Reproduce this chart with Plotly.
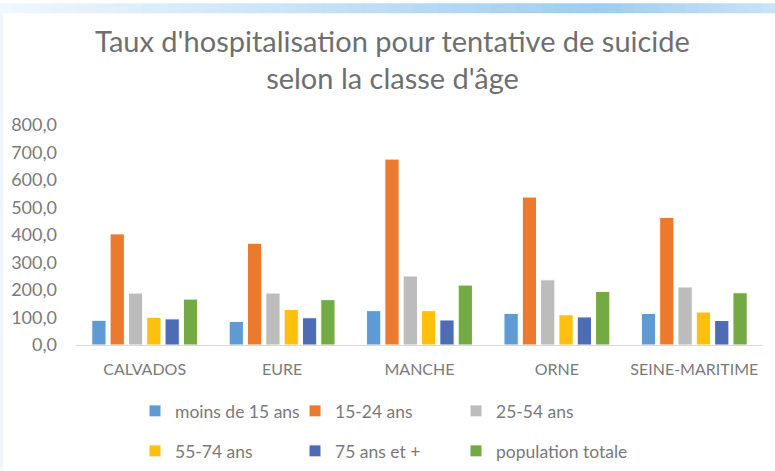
import plotly.graph_objects as go

categories = ["CALVADOS", "EURE", "MANCHE", "ORNE", "SEINE-MARITIME"]
series_names = ["moins de 15 ans", "15-24 ans", "25-54 ans", "55-74 ans", "75 ans et +", "population totale"]
moins_15 = [90, 86, 125, 115, 115]
ans_15_24 = [404, 370, 676, 538, 464]
ans_25_54 = [189, 189, 251, 237, 211]
ans_55_74 = [101, 129, 125, 110, 120]
ans_75_plus = [95, 99, 91, 102, 89]
population_totale = [167, 165, 218, 195, 190]
y_ticks = [0, 100, 200, 300, 400, 500, 600, 700, 800]

series_values = [moins_15, ans_15_24, ans_25_54, ans_55_74, ans_75_plus, population_totale]
colors = ["#5e9bd4", "#eb7a2f", "#bcbcbc", "#fdc00d", "#4e6bb5", "#73aa44"]

W, H = 775, 471
# legend placement (container coords) for each entry: 3 columns x 2 rows
col_x = [135 / W, 295 / W, 456 / W]
row_y = [1 - 411 / H, 1 - 451 / H]
legend_pos = [(col_x[0], row_y[0]), (col_x[1], row_y[0]), (col_x[2], row_y[0]),
              (col_x[0], row_y[1]), (col_x[1], row_y[1]), (col_x[2], row_y[1])]
legend_ids = ["legend", "legend2", "legend3", "legend4", "legend5", "legend6"]

fig = go.Figure()
for name, vals, col, lid in zip(series_names, series_values, colors, legend_ids):
    fig.add_trace(go.Bar(
        x=categories, y=vals, name=name, legend=lid,
        marker=dict(color=col, line=dict(color="white", width=1)),
    ))

font_col = "#7a7a7a"
layout_legends = {}
for lid, (lx, ly) in zip(legend_ids, legend_pos):
    layout_legends[lid] = dict(
        x=lx, y=ly, xanchor="left", yanchor="middle",
        xref="container", yref="container",
        orientation="v", bgcolor="rgba(0,0,0,0)",
        font=dict(family="Lato", size=17.5, color=font_col),
        itemwidth=30,
    )

# plot area geometry (pixels)
L, R, T, B = 76, 12, 125, 125.5
PW, PH = W - L - R, H - T - B
def px_x(x):
    return (x - L) / PW
def px_y(y):
    return (H - B - y) / PH

# decorative frame: gradient band on top
shapes = []
n = 60
def lerp(a, b, t):
    return tuple(int(round(a[i] + (b[i] - a[i]) * t)) for i in range(3))
c0, c1, c2 = (240, 247, 253), (158, 205, 240), (200, 226, 246)
for i in range(n):
    t = i / (n - 1)
    if t < 0.78:
        c = lerp(c0, c1, t / 0.78)
    else:
        c = lerp(c1, c2, (t - 0.78) / 0.22)
    shapes.append(dict(type="rect", xref="paper", yref="paper",
                       x0=px_x(W * i / n), x1=px_x(W * (i + 1) / n + 1),
                       y0=px_y(13), y1=px_y(3),
                       line=dict(width=0), fillcolor="rgb(%d,%d,%d)" % c, layer="below"))
shapes.append(dict(type="rect", xref="paper", yref="paper",
                   x0=px_x(0), x1=px_x(3), y0=px_y(H), y1=px_y(13),
                   line=dict(width=0), fillcolor="#eef5fc", layer="below"))

fig.update_layout(
    width=W, height=H,
    margin=dict(l=L, r=R, t=T, b=B, autoexpand=False),
    paper_bgcolor="white", plot_bgcolor="white",
    separators=", ",
    showlegend=True,
    title=dict(text="Taux d'hospitalisation pour tentative de suicide<br>selon la classe d'âge",
               x=392.5 / W, xanchor="center", xref="container", y=1 - 51.5 / H, yanchor="middle",
               font=dict(family="Lato", size=29, color="#6f6f6f")),
    barmode="group", bargap=0.2, bargroupgap=0.22,
    xaxis=dict(showline=True, linecolor="#d9d9d9", linewidth=1, showgrid=False,
               tickfont=dict(family="Lato", size=16, color=font_col), ticks="",
               tickangle=0, ticklabelstandoff=10, automargin=False),
    yaxis=dict(range=[0, 800], tickvals=y_ticks, tickformat=".1f", showgrid=False,
               zeroline=False, showline=False, automargin=False,
               tickfont=dict(family="Lato", size=18, color=font_col), ticklabelstandoff=18),
    shapes=shapes,
    **layout_legends,
)

fig.write_html("out.html", config={"displayModeBar": False},
               post_script="document.body.style.margin='0';")
